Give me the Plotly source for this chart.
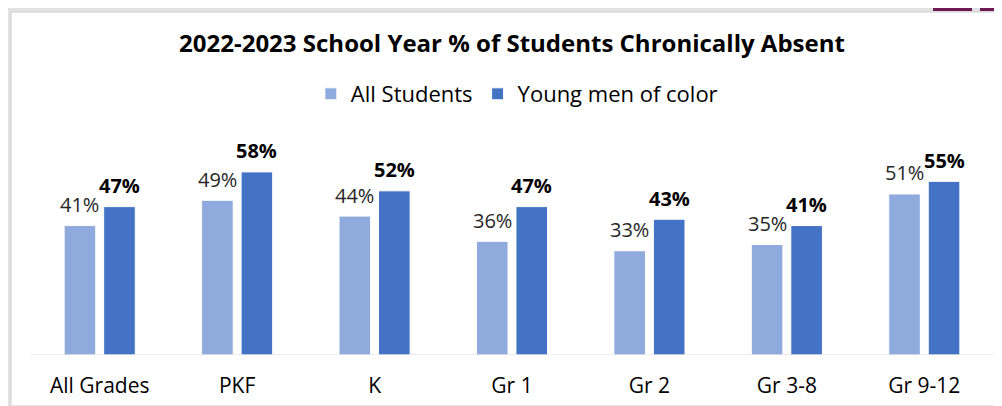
import plotly.graph_objects as go

categories = ["All Grades", "PKF", "K", "Gr 1", "Gr 2", "Gr 3-8", "Gr 9-12"]
all_students = [41, 49, 44, 36, 33, 35, 51]
young_men_of_color = [47, 58, 52, 47, 43, 41, 55]
series_names = ["All Students", "Young men of color"]
title_text = "2022-2023 School Year % of Students Chronically Absent"

# page body has an 8px margin; design in reference pixel coords and shift
OFF = 8
W, H = 1002 - OFF, 406 - OFF
L, R, T, B = 31 - OFF, W - (993 - OFF), 134 - OFF, H - (355 - OFF)
PW, PH = W - L - R, H - T - B
FONT = "Open Sans, Calibri, sans-serif"
BARGAP, GROUPGAP = 0.425, 0.2
CAT_PX = PW / len(categories)
SLOT_PX = CAT_PX * (1 - BARGAP) / 2

def px_x(px):
    return (px - OFF - L) / PW

def px_y(py):
    return (H - B - (py - OFF)) / PH

fig = go.Figure()
fig.add_trace(go.Bar(
    x=categories, y=all_students, name=series_names[0],
    marker=dict(color="#8faadc", line=dict(color="white", width=1)),
))
fig.add_trace(go.Bar(
    x=categories, y=young_men_of_color, name=series_names[1],
    marker=dict(color="#4472c4", line=dict(color="white", width=1)),
))

annotations = []
for cat, v in zip(categories, all_students):
    annotations.append(dict(x=cat, y=v, xref="x", yref="y", text=f"{v}%",
                            showarrow=False, xshift=-SLOT_PX / 2, yshift=21,
                            yanchor="middle", xanchor="center",
                            font=dict(size=20, color="#262626", family=FONT)))
for cat, v in zip(categories, young_men_of_color):
    annotations.append(dict(x=cat, y=v, xref="x", yref="y", text=f"<b>{v}%</b>",
                            showarrow=False, xshift=SLOT_PX / 2, yshift=21,
                            yanchor="middle", xanchor="center",
                            font=dict(size=20, color="#000000", family=FONT)))

shapes = []
# shadow frame (only partly visible)
shapes.append(dict(type="rect", xref="paper", yref="paper", layer="below",
                   x0=px_x(0), x1=px_x(1002), y0=px_y(406), y1=px_y(0),
                   fillcolor="#e2e2e2", line=dict(width=0)))
shapes.append(dict(type="rect", xref="paper", yref="paper", layer="below",
                   x0=px_x(11), x1=px_x(1002), y0=px_y(406), y1=px_y(12),
                   fillcolor="white", line=dict(color="#cfcfcf", width=1)))
# maroon tabs top right
for x0, x1 in [(933, 972), (980, 1002)]:
    shapes.append(dict(type="rect", xref="paper", yref="paper", layer="below",
                       x0=px_x(x0), x1=px_x(x1), y0=px_y(11), y1=px_y(0),
                       fillcolor="#6e1a55", line=dict(width=0)))
# baseline
shapes.append(dict(type="line", xref="paper", yref="y", x0=px_x(31), x1=px_x(1002),
                   y0=0, y1=0, line=dict(color="#d9d9d9", width=1)))

fig.update_layout(
    width=W, height=H,
    margin=dict(l=L, r=R, t=T, b=B, pad=0),
    paper_bgcolor="white", plot_bgcolor="rgba(0,0,0,0)",
    barmode="group", bargap=BARGAP, bargroupgap=GROUPGAP,
    font=dict(family=FONT, color="#000000"),
    title=dict(text=f"<b>{title_text}</b>", x=(512 - OFF) / W, xanchor="center",
               yref="container", y=1 - (44 - OFF) / H, yanchor="middle",
               font=dict(size=24, color="#000000", family=FONT)),
    legend=dict(orientation="h", x=(510 - OFF) / W, xanchor="center",
                yref="container", y=1 - (94 - OFF) / H, yanchor="middle",
                font=dict(size=22, color="#000000", family=FONT),
                itemwidth=30, tracegroupgap=0, bgcolor="rgba(0,0,0,0)"),
    xaxis=dict(showgrid=False, showline=False, ticks="",
               tickfont=dict(size=21, color="#000000", family=FONT),
               ticklabelstandoff=16, automargin=False),
    yaxis=dict(range=[0, 70], visible=False),
    shapes=shapes,
    annotations=annotations,
    showlegend=True,
)

fig.write_html("out.html")
